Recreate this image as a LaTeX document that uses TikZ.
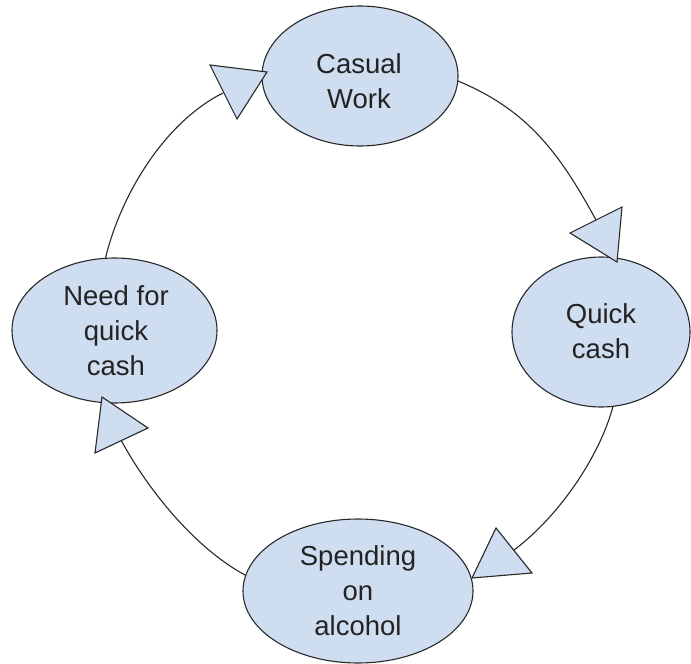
\documentclass[tikz,border=0pt]{standalone}
\usepackage{fontspec}
\setmainfont{Liberation Sans}
\usetikzlibrary{shapes.geometric}
\definecolor{fillblue}{RGB}{207,221,240}
\definecolor{strk}{RGB}{40,40,40}
\definecolor{txtc}{RGB}{35,35,35}
\begin{document}
\begin{tikzpicture}[x=1pt,y=-1pt,
  ell/.style={ellipse, draw=strk, fill=fillblue, line width=1.1pt, inner sep=0pt},
  txt/.style={align=center, inner sep=0pt, text=txtc, font=\fontsize{27.5}{35}\selectfont},
  conn/.style={draw=strk, line width=1.1pt},
  tri/.style={draw=strk, fill=fillblue, line width=1.1pt, line join=miter}]
\useasboundingbox (0,0) rectangle (691,664);

% ellipses
\node[ell, minimum width=196pt, minimum height=140pt] (cw) at (360,76) {};
\node[txt] (cwt) at (359,81) {Casual\\Work};
\node[ell, minimum width=178pt, minimum height=150pt] (qc) at (601,332) {};
\node[txt] (qct) at (601,331) {Quick\\cash};
\node[ell, minimum width=230pt, minimum height=144pt] (sp) at (358,591) {};
\node[txt] (spt) at (358,591) {Spending\\on\\alcohol};
\node[ell, minimum width=205pt, minimum height=145pt] (nq) at (114.5,330.5) {};
\node[txt] (nqt) at (116,331) {Need for\\quick\\cash};

% arrow head base midpoints
\coordinate (e1) at (596,220);
\coordinate (e2) at (514,550);
\coordinate (e3) at (121,440);
\coordinate (e4) at (223,93);

% connectors
\draw[conn] (cw.-3) .. controls (528,110) and (560,154) .. (e1);
\draw[conn] (qc.-81) .. controls (599,458) and (558,517) .. (e2);
\draw[conn] (sp.172) .. controls (195,548) and (148,490) .. (e3);
\draw[conn] (nq.97) .. controls (121,194) and (165,122) .. (e4);

% triangular arrow heads
\draw[tri] (622,207) -- (617,262) -- (570,233) -- cycle;
\draw[tri] (496,528) -- (472,578) -- (532,573) -- cycle;
\draw[tri] (148,428) -- (102,397) -- (95,453) -- cycle;
\draw[tri] (210,65) -- (267,72) -- (237,119) -- cycle;
\end{tikzpicture}
\end{document}
